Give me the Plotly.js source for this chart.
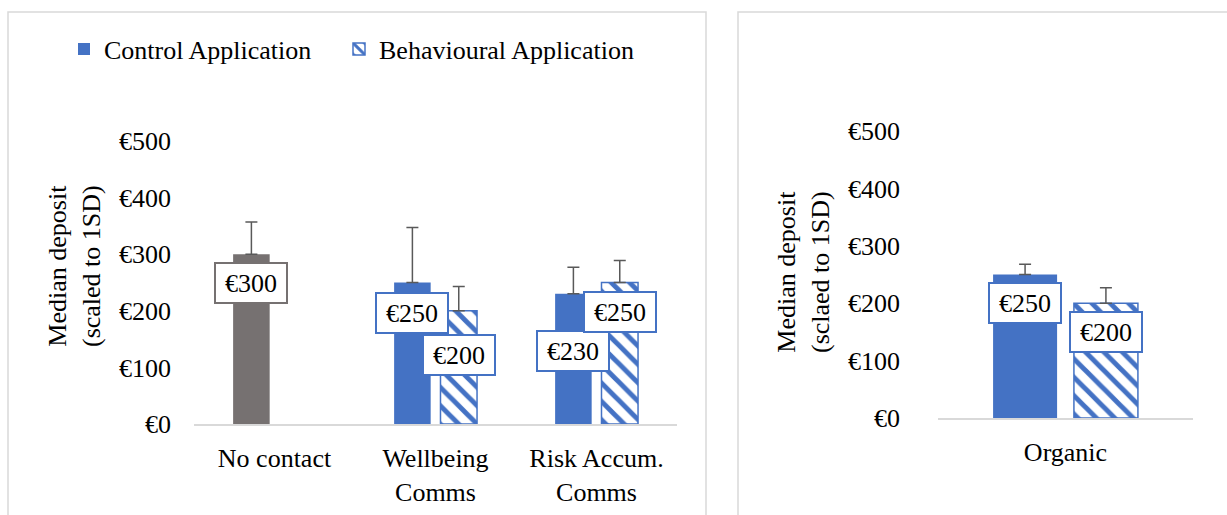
<!DOCTYPE html>
<html>
<head>
<meta charset="utf-8">
<script src="https://cdn.plot.ly/plotly-3.0.1.min.js"></script>
<style>
html,body{margin:0;padding:0;background:#fff}
#chart{width:1227px;height:515px}
#chart svg text{font-family:"Liberation Serif","Times New Roman",serif !important}
</style>
</head>
<body>
<div id="chart"></div>
<script>
// ---- data ----
const categoriesLeft = ['No contact', 'Wellbeing<br>Comms', 'Risk Accum.<br>Comms'];
const noContactValues = [300, null, null];
const noContactErrors = [57, null, null];
const controlLeftValues = [null, 250, 230];
const controlLeftErrors = [null, 97, 47];
const behaviouralLeftValues = [null, 200, 250];
const behaviouralLeftErrors = [null, 43, 39];

const categoriesRight = ['Organic'];
const controlRightValues = [250];
const controlRightErrors = [18];
const behaviouralRightValues = [200];
const behaviouralRightErrors = [27];

const yTickValues = [0, 100, 200, 300, 400, 500];
const yTickLabels = ['€0', '€100', '€200', '€300', '€400', '€500'];
const seriesNames = ['Control Application', 'Behavioural Application'];

// ---- style ----
const BLUE = '#4472C4';
const GREY = '#767171';
const ERR = '#595959';
const FONT = 'Liberation Serif';
const FS = 26;
const W = 1227, H = 515;

function errBar(arr) {
  return {type: 'data', symmetric: false, array: arr, arrayminus: arr.map(v => v == null ? null : 0),
          color: ERR, thickness: 1.5, width: 6};
}
const pattern = {shape: '\\', fgcolor: BLUE, bgcolor: '#ffffff', size: 13, solidity: 0.38};

// bar geometry (category units)
const L = {w: 0.227, oc: -0.257, ob: 0.031};
const R = {w: 0.251, oc: -0.284, ob: 0.033};

const traces = [
  {type: 'bar', x: categoriesLeft, y: controlLeftValues, name: seriesNames[0], legend: 'legend',
   marker: {color: BLUE, line: {width: 0}}, width: L.w, offset: L.oc, error_y: errBar(controlLeftErrors),
   xaxis: 'x', yaxis: 'y', hoverinfo: 'skip'},
  {type: 'bar', x: categoriesLeft, y: behaviouralLeftValues, name: seriesNames[1], legend: 'legend2',
   marker: {color: '#ffffff', pattern: pattern, line: {color: BLUE, width: 1.5}}, width: L.w, offset: L.ob,
   error_y: errBar(behaviouralLeftErrors), xaxis: 'x', yaxis: 'y', hoverinfo: 'skip'},
  {type: 'bar', x: categoriesLeft, y: noContactValues, name: 'No contact', showlegend: false,
   marker: {color: GREY, line: {width: 0}}, width: L.w, offset: L.oc, error_y: errBar(noContactErrors),
   xaxis: 'x', yaxis: 'y', hoverinfo: 'skip'},
  {type: 'bar', x: categoriesRight, y: controlRightValues, name: seriesNames[0], showlegend: false,
   marker: {color: BLUE, line: {width: 0}}, width: R.w, offset: R.oc, error_y: errBar(controlRightErrors),
   xaxis: 'x2', yaxis: 'y2', hoverinfo: 'skip'},
  {type: 'bar', x: categoriesRight, y: behaviouralRightValues, name: seriesNames[1], showlegend: false,
   marker: {color: '#ffffff', pattern: pattern, line: {color: BLUE, width: 1.5}}, width: R.w, offset: R.ob,
   error_y: errBar(behaviouralRightErrors), xaxis: 'x2', yaxis: 'y2', hoverinfo: 'skip'}
];

// value labels (boxes) — drop in px from bar top to box centre
const annotations = [];
function addLabels(vals, geomOffset, geomW, axis, border, drops) {
  vals.forEach((v, i) => {
    if (v == null) return;
    annotations.push({
      xref: axis.x, yref: axis.y, x: i + geomOffset + geomW / 2, y: v, yshift: -drops[i],
      text: '€' + v, showarrow: false, xanchor: 'center', yanchor: 'middle',
      font: {family: FONT, size: FS, color: '#000'}, bgcolor: '#ffffff',
      bordercolor: border, borderwidth: 2, borderpad: 3, width: 64, height: 32
    });
  });
}
addLabels(noContactValues, L.oc, L.w, {x: 'x', y: 'y'}, GREY, [29, 0, 0]);
addLabels(controlLeftValues, L.oc, L.w, {x: 'x', y: 'y'}, BLUE, [0, 30, 57]);
addLabels(behaviouralLeftValues, L.ob, L.w, {x: 'x', y: 'y'}, BLUE, [0, 44, 29]);
addLabels(controlRightValues, R.oc, R.w, {x: 'x2', y: 'y2'}, BLUE, [28]);
addLabels(behaviouralRightValues, R.ob, R.w, {x: 'x2', y: 'y2'}, BLUE, [29]);

// axis titles
annotations.push({xref: 'paper', yref: 'paper', x: 74 / W, y: 1 - 266 / H, textangle: -90, showarrow: false,
  text: 'Median deposit<br>(scaled to 1SD)', font: {family: FONT, size: FS, color: '#000'},
  xanchor: 'center', yanchor: 'middle'});
annotations.push({xref: 'paper', yref: 'paper', x: 803 / W, y: 1 - 272 / H, textangle: -90, showarrow: false,
  text: 'Median deposit<br>(sclaed to 1SD)', font: {family: FONT, size: FS, color: '#000'},
  xanchor: 'center', yanchor: 'middle'});

const axisFont = {family: FONT, size: FS, color: '#000'};
const legendBase = {orientation: 'h', xanchor: 'left', y: 1 - 49 / H, yanchor: 'middle',
  font: {family: FONT, size: FS, color: '#000'}, bgcolor: 'rgba(0,0,0,0)'};
const layout = {
  width: W, height: H, margin: {l: 0, r: 0, t: 0, b: 0},
  paper_bgcolor: '#fff', plot_bgcolor: 'rgba(0,0,0,0)',
  font: {family: FONT, size: FS, color: '#000'},
  barmode: 'overlay',
  showlegend: true,
  legend: Object.assign({}, legendBase, {x: 64 / W}),
  legend2: Object.assign({}, legendBase, {x: 339 / W}),
  xaxis: {domain: [194 / W, 677 / W], type: 'category', showline: true, linecolor: '#D9D9D9', linewidth: 2,
          ticks: '', showgrid: false, zeroline: false, tickfont: axisFont, ticklabelstandoff: 10,
          range: [-0.5, 2.5], fixedrange: true},
  yaxis: {domain: [1 - 424 / H, 1 - 141 / H], range: [0, 500], tickvals: yTickValues, ticktext: yTickLabels,
          showgrid: false, zeroline: false, showline: false, ticks: '', tickfont: axisFont,
          ticklabelstandoff: 22, fixedrange: true},
  xaxis2: {domain: [938 / W, 1193 / W], type: 'category', anchor: 'y2', showline: true, linecolor: '#D9D9D9',
           linewidth: 2, ticks: '', showgrid: false, zeroline: false, tickfont: axisFont, ticklabelstandoff: 10,
           range: [-0.5, 0.5], fixedrange: true},
  yaxis2: {domain: [1 - 418 / H, 1 - 131 / H], anchor: 'x2', range: [0, 500], tickvals: yTickValues,
           ticktext: yTickLabels, showgrid: false, zeroline: false, showline: false, ticks: '', tickfont: axisFont,
           ticklabelstandoff: 37, fixedrange: true},
  shapes: [
    {type: 'rect', xref: 'paper', yref: 'paper', x0: 8 / W, x1: 706 / W, y0: -0.2, y1: 1 - 12 / H,
     line: {color: '#D9D9D9', width: 1.5}, fillcolor: 'rgba(0,0,0,0)', layer: 'below'},
    {type: 'rect', xref: 'paper', yref: 'paper', x0: 738 / W, x1: 1.2, y0: -0.2, y1: 1 - 12 / H,
     line: {color: '#D9D9D9', width: 1.5}, fillcolor: 'rgba(0,0,0,0)', layer: 'below'}
  ],
  annotations: annotations
};

Plotly.newPlot('chart', traces, layout, {displayModeBar: false});
</script>
</body>
</html>
